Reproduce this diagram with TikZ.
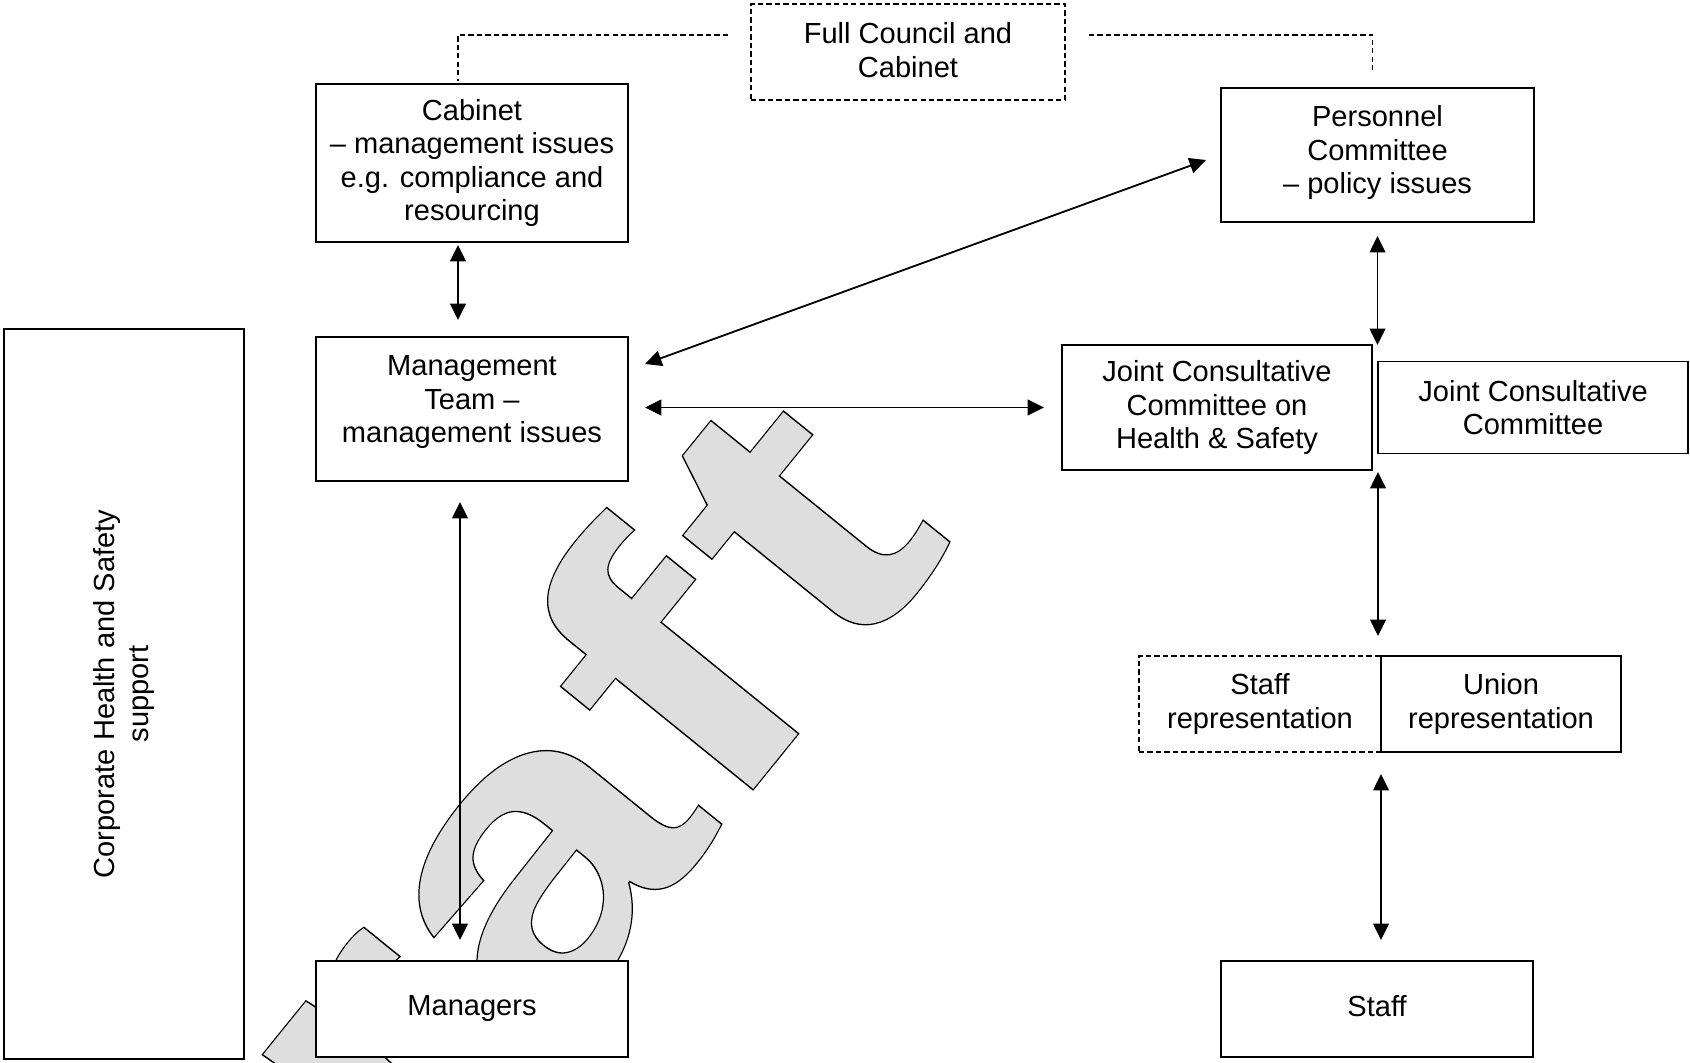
\documentclass[tikz,border=0pt]{standalone}
\usepackage{fontspec}
\setmainfont{Liberation Sans}
\usetikzlibrary{positioning,arrows.meta}
\definecolor{MarkGray}{gray}{0.87}
% outlined letters: grey fill, black stroke
\newcommand\draftmark[1]{\textcolor{MarkGray}{\special{pdf:literal direct 0 G 0.45 w 2 Tr}#1\special{pdf:literal direct 0 Tr}}}
\newcommand\upx{0.413pt}
\tikzstyle{OrgBox}=[rectangle, draw=black, fill=white, line width=0.6pt, outer sep=0pt, inner sep=0pt, align=center, font=\fontsize{12}{13.8}\selectfont]
\tikzstyle{OrgDashed}=[OrgBox, dash pattern=on 2.2pt off 1.3pt]
\tikzstyle{TwoWay}=[{Triangle[length=6.8pt,width=6.5pt]}-{Triangle[length=6.8pt,width=6.5pt]}, line width=0.75pt]
\tikzstyle{DashLink}=[line width=0.6pt, dash pattern=on 2.2pt off 1.3pt]

\begin{document}
\begin{tikzpicture}[x=\upx, y=-\upx]
	\useasboundingbox (0,0) rectangle (1690,1062);

	%Watermark
	\begin{scope}
		\clip (0,0) rectangle (1690,1062);
		\node[rotate=51, anchor=base, inner sep=0pt, font=\bfseries\fontsize{168}{168}\selectfont] (draft_mark) at (562,1026) {\scalebox{1.30}[1]{\draftmark{Draf\kern0.04em t}}};
	\end{scope}

	%Nodes
	\node[OrgDashed, minimum width=314*\upx, minimum height=96*\upx, text depth=1.7pt]	(council)	at (908,52)		{Full Council and\\Cabinet};
	\node[OrgBox, minimum width=312*\upx, minimum height=158*\upx]	(cabinet)	at (472,163)	{Cabinet\\– management issues\\e.g. compliance and\\resourcing};
	\node[OrgBox, minimum width=312*\upx, minimum height=144*\upx, text depth=8.1pt]	(mgmt_team)	at (472,409)	{Management\\Team –\\management issues};
	\node[OrgBox, minimum width=312*\upx, minimum height=96*\upx]	(managers)	at (472,1009)	{Managers};

	\node[OrgBox, minimum width=313*\upx, minimum height=134*\upx, text depth=4.5pt]	(personnel)	at (1377.5,155)	{Personnel\\Committee\\– policy issues};
	\node[OrgBox, minimum width=310*\upx, minimum height=125*\upx]	(jcc_hs)	at (1217,407.5)	{Joint Consultative\\Committee on\\Health \& Safety};
	\node[OrgBox, minimum width=310*\upx, minimum height=92*\upx]	(jcc)		[right=2.5pt of jcc_hs]	{Joint Consultative\\Committee};

	\node[OrgDashed, minimum width=242*\upx, minimum height=96*\upx]	(staff_rep)	at (1260,704)	{Staff\\representation};
	\node[OrgBox, minimum width=240*\upx, minimum height=96*\upx]	(union_rep)	[right=0pt of staff_rep]	{Union\\representation};
	\node[OrgBox, minimum width=312*\upx, minimum height=96*\upx, text depth=2.6pt]	(staff)		at (1377,1009)	{Staff};

	\node[OrgBox, rotate=90, minimum width=730*\upx, minimum height=240*\upx]	(corporate_hs)	at (124,694)	{Corporate Health and Safety\\support};

	%Lines
	\draw[DashLink] ([shift={(-23,-17)}]council.west) -| ([shift={(-14,-3)}]cabinet.north);
	\draw[DashLink] ([shift={(24,-17)}]council.east) -| ([shift={(-5,-15)}]personnel.north);

	\draw[TwoWay, shorten <=3*\upx, shorten >=17*\upx] ([shift={(-14,0)}]cabinet.south) -- ([shift={(-14,0)}]mgmt_team.north);
	\draw[TwoWay, shorten <=21*\upx, shorten >=21*\upx] ([shift={(-12,0)}]mgmt_team.south) -- ([shift={(-12,0)}]managers.north);
	\draw[TwoWay] ([shift={(17,-45)}]mgmt_team.east) -- ([shift={(-15,5)}]personnel.west);
	\draw[TwoWay, shorten <=17*\upx, shorten >=18*\upx] (mgmt_team.east |- jcc_hs.west) -- (jcc_hs.west);

	\draw[TwoWay, shorten <=14*\upx] (personnel.south) -- (personnel.south |- jcc_hs.north);
	\draw[TwoWay, shorten <=2*\upx, shorten >=20*\upx] ([shift={(-3,0)}]staff_rep.north east |- jcc_hs.south) -- ([shift={(-3,0)}]staff_rep.north east);
	\draw[TwoWay, shorten <=22*\upx, shorten >=21*\upx] (staff_rep.south east) -- (staff_rep.south east |- staff.north);

\end{tikzpicture}
\end{document}
